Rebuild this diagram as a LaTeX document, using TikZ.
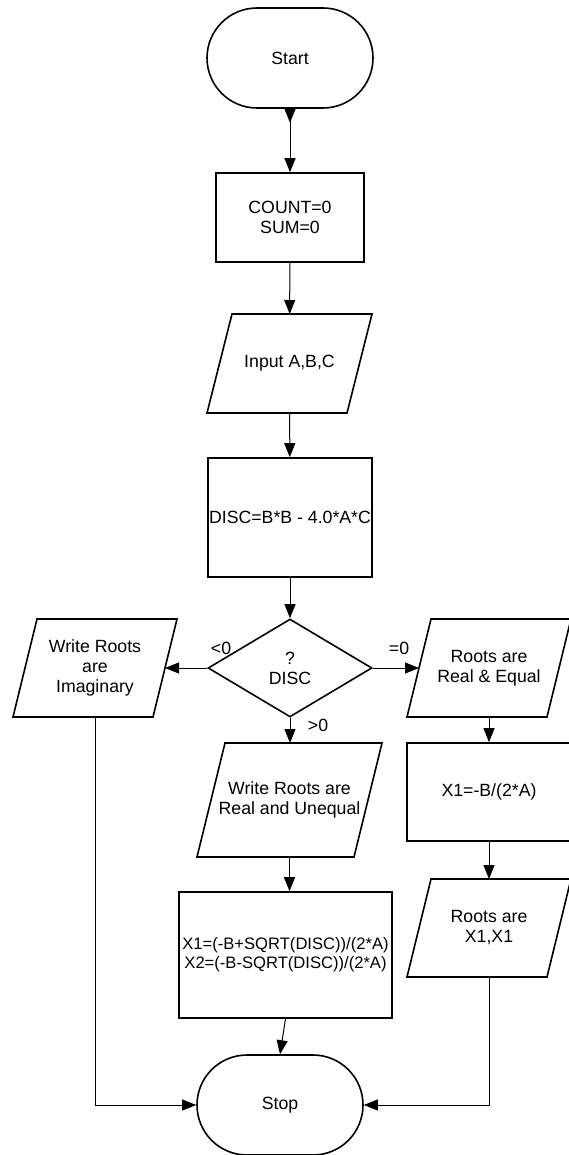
\documentclass[tikz,border=0pt]{standalone}
\usepackage{fontspec}
\setmainfont{Liberation Sans}
\usetikzlibrary{arrows.meta,shapes.geometric}
\tikzset{
  arr/.style={-{Triangle[length=14pt,width=11pt]}, line width=1pt},
  tbox/.style={draw, rounded corners=50pt, line width=1.6pt, inner sep=0pt,
               minimum width=166pt, minimum height=100pt, align=center},
  pbox/.style={draw, line width=1.6pt, inner sep=0pt, align=center},
  iobox/.style={inner sep=0pt, outer sep=0pt, align=center,
                minimum width=140pt, minimum height=98pt,
                append after command={\pgfextra{\pgfinterruptpath
                  \draw[line width=1.6pt]
                    ([xshift=#1pt]\tikzlastnode.north west) -- ([xshift=#1pt]\tikzlastnode.north east)
                    -- ([xshift=-#1pt]\tikzlastnode.south east) -- ([xshift=-#1pt]\tikzlastnode.south west)
                    -- cycle;
                  \endpgfinterruptpath}}},
  iobox/.default=12,
  dbox/.style={draw, diamond, line width=1.6pt, inner sep=0pt, align=center,
               minimum width=164pt, minimum height=98pt},
  lbl/.style={inner sep=0pt},
}

\begin{document}
\begin{tikzpicture}[x=1pt, y=-1pt,
                    every node/.style={font=\fontsize{17.7}{20}\selectfont}]
\useasboundingbox (0,0) rectangle (569,1155);
\node[tbox] (start) at (290,58)  {Start};
\node[pbox, minimum width=148pt, minimum height=89pt] (init) at (290,217.5) {COUNT=0\\SUM=0};
\node[iobox=12.5, minimum height=99pt] (input) at (289.5,363.5) {Input A,B,C};
\node[pbox, minimum width=164pt, minimum height=119pt] (disc) at (290,517.5) {DISC=B*B - 4.0*A*C};
\node[dbox] (test) at (290,668) {?\\DISC};
\node[iobox] (imag)  at (95,668)  {Write Roots\\are\\Imaginary};
\node[iobox] (equal) at (489,668) {Roots are\\Real \& Equal};
\node[iobox=14, minimum width=157pt, minimum height=114pt] (uneq) at (289.5,800) {Write Roots are\\Real and Unequal};
\node[pbox, minimum width=164pt, minimum height=98pt] (xone) at (489,792) {X1=-B/(2*A)};
\node[pbox, minimum width=213pt, minimum height=126pt,
      font=\fontsize{16.6}{19}\selectfont] (xtwo) at (285.5,955)
      {X1=(-B+SQRT(DISC))/(2*A)\\X2=(-B-SQRT(DISC))/(2*A)};
\node[iobox] (same) at (489,928) {Roots are\\X1,X1};
\node[tbox] (stop) at (280,1105) {Stop};
\node[lbl] (lt) at (221,648) {<0};
\node[lbl] (eq) at (399,648) {=0};
\node[lbl] (gt) at (318,725) {>0};
\draw[arr, {Triangle[reversed,length=14pt,width=11pt]}-{Triangle[length=14pt,width=11pt]}] (start) -- (init);
\draw[arr] (init)  -- (input);
\draw[arr] (input) -- (disc);
\draw[arr] (disc)  -- (test);
\draw[arr] (test.west)  -- (imag);
\draw[arr] (test.east)  -- (equal);
\draw[arr] (test.south) -- (test.south |- uneq.north);
\draw[arr] (equal) -- (xone);
\draw[arr] (xone)  -- (same);
\draw[arr] (uneq.south) -- (uneq.south |- xtwo.north);
\draw[arr] (xtwo.south) -- (stop.north);
\draw[arr] (imag.south) |- (stop.west);
\draw[arr] (same.south) |- (stop.east);
\end{tikzpicture}
\end{document}
